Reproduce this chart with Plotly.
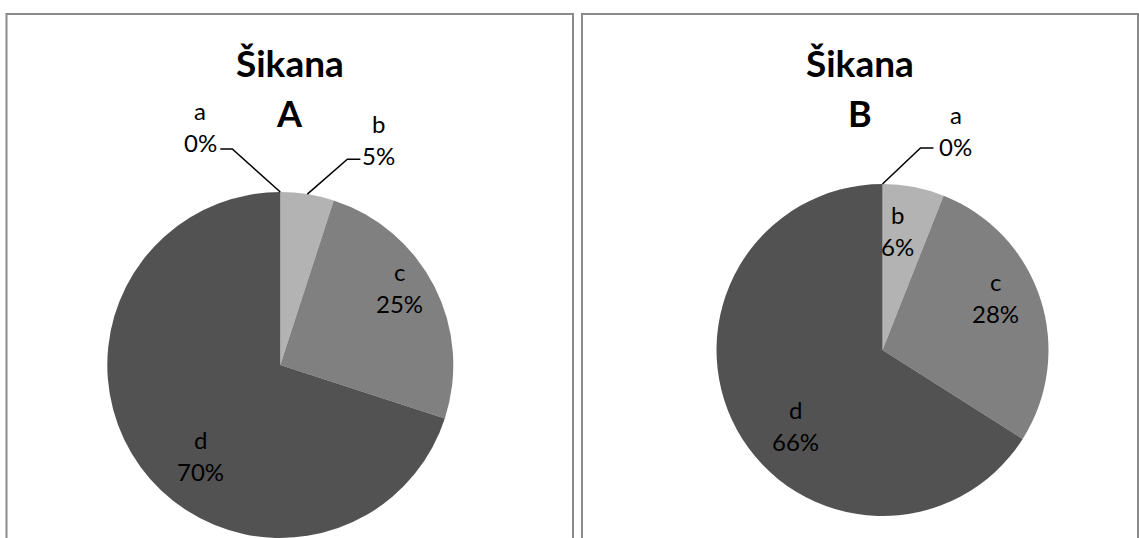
import math
import plotly.graph_objects as go

# ---------------- data ----------------
categories = ["a", "b", "c", "d"]
values_A = [0, 5, 25, 70]
values_B = [0, 6, 28, 66]
chart_title = "Šikana"
panel_titles = ["A", "B"]
slice_colors = ["#d9d9d9", "#b3b3b3", "#808080", "#525252"]

# ---------------- layout constants (pixels) ----------------
W, H = 1139, 538
FONT = "Lato"

def px_x(x):
    return x / W

def px_y(y):
    return 1 - y / H

# pie geometry (centre x, centre y, radius) in pixels
pies = [
    dict(values=values_A, cx=280.3, cy=365.0, r=173.0, panel=(6.5, 573.0), title=panel_titles[0],
         # per slice: ('out', dx_elbow, dy_elbow, tail, text dx, text dy) or ('in', radius fraction, angle shift)
         labels=[("out", -48, -43, -12, -20, -23), ("out", 40, -35, 13, 18, -20),
                 ("in", 0.824, -5.9), ("in", 0.70, -12.6)]),
    dict(values=values_B, cx=882.5, cy=350.0, r=166.0, panel=(582.0, 1138.0), title=panel_titles[1],
         labels=[("out", 38, -36, 13, 22, -18), ("in", 0.723, -3.4), ("in", 0.748, -7.0), ("in", 0.696, -12.0)]),
]

fig = go.Figure()
annotations = []
shapes = []

LINE_GAP = 32  # px between label name and percentage

def add_label(x, y, name, pct):
    for txt, yy in ((name, y - LINE_GAP / 2), (pct, y + LINE_GAP / 2)):
        annotations.append(dict(x=px_x(x), y=px_y(yy), xref="paper", yref="paper",
                                text=txt, showarrow=False, xanchor="center", yanchor="middle",
                                font=dict(family=FONT, size=24, color="#000000")))

for p in pies:
    vals = p["values"]
    total = sum(vals)
    fig.add_trace(go.Pie(
        labels=categories, values=vals, sort=False, direction="clockwise", rotation=0,
        marker=dict(colors=slice_colors, line=dict(width=0)),
        textinfo="none", hoverinfo="label+percent", showlegend=False,
        domain=dict(x=[px_x(p["cx"] - p["r"]), px_x(p["cx"] + p["r"])],
                    y=[max(0, px_y(p["cy"] + p["r"])), px_y(p["cy"] - p["r"])]),
    ))
    # panel border
    x0, x1 = p["panel"]
    shapes.append(dict(type="rect", xref="paper", yref="paper",
                       x0=px_x(x0), x1=px_x(x1), y0=px_y(H + 10), y1=px_y(14),
                       line=dict(color="#8a8a8a", width=2), fillcolor="rgba(0,0,0,0)"))
    # titles
    pc = (x0 + x1) / 2
    annotations.append(dict(x=px_x(pc), y=px_y(63), xref="paper", yref="paper", text=chart_title,
                            showarrow=False, xanchor="center", yanchor="middle",
                            font=dict(family=FONT, size=37, color="#000000", weight="bold")))
    annotations.append(dict(x=px_x(pc), y=px_y(113), xref="paper", yref="paper", text=p["title"],
                            showarrow=False, xanchor="center", yanchor="middle",
                            font=dict(family=FONT, size=36, color="#000000", weight="bold")))
    # slice labels
    cum = 0.0
    for i, v in enumerate(vals):
        mid = (cum + v / 2) / total * 360.0
        cum += v
        pct = f"{round(v / total * 100)}%"
        spec = p["labels"][i]
        if spec[0] == "in":
            ang = math.radians(mid + spec[2])
            rr = spec[1] * p["r"]
            lx = p["cx"] + rr * math.sin(ang)
            ly = p["cy"] - rr * math.cos(ang)
            add_label(lx, ly, categories[i], pct)
        else:
            ang = math.radians(mid)
            ex = p["cx"] + p["r"] * math.sin(ang)
            ey = p["cy"] - p["r"] * math.cos(ang)
            bx, by = ex + spec[1], ey + spec[2]
            tx = bx + spec[3]
            shapes.append(dict(type="path", xref="paper", yref="paper",
                               path=f"M {px_x(ex)} {px_y(ey)} L {px_x(bx)} {px_y(by)} L {px_x(tx)} {px_y(by)}",
                               line=dict(color="#000000", width=1.5)))
            add_label(tx + spec[4], by + spec[5], categories[i], pct)

fig.update_layout(
    width=W, height=H,
    margin=dict(l=0, r=0, t=0, b=0),
    paper_bgcolor="#ffffff", plot_bgcolor="#ffffff",
    annotations=annotations, shapes=shapes,
)

fig.write_html("out.html")
